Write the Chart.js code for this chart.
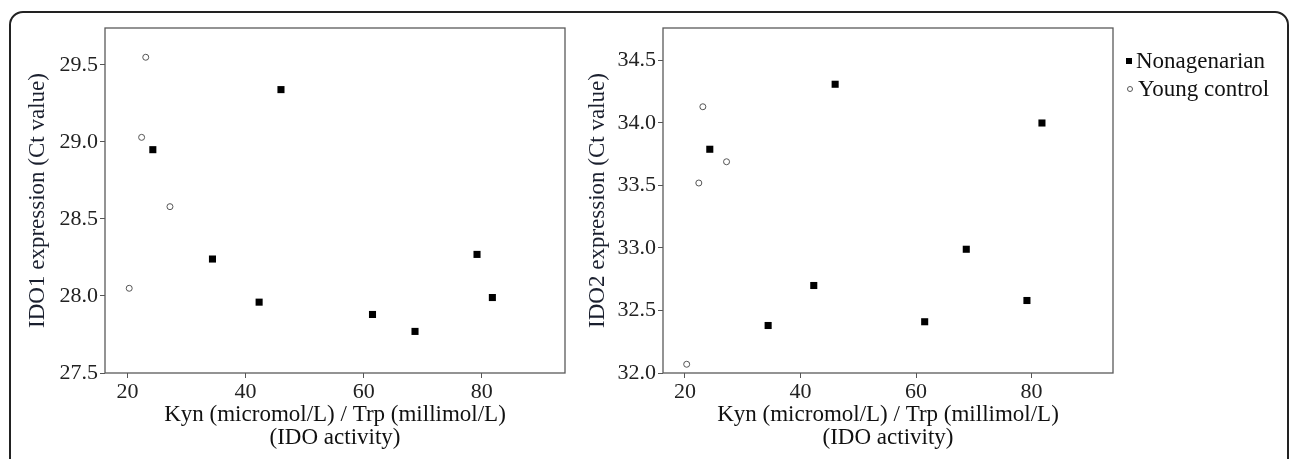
<!DOCTYPE html>
<html>
<head>
<meta charset="utf-8">
<script src="https://cdn.jsdelivr.net/npm/chart.js@4.4.1/dist/chart.umd.min.js"></script>
<style>
  body { margin: 0; background: #fff; width: 1290px; height: 459px; overflow: hidden; position: relative; }
  #frame { position: absolute; left: 9px; top: 11px; width: 1276px; height: 520px; border: 2px solid #222; border-radius: 14px; }
  .box { position: absolute; top: 0; height: 459px; }
  #legend { position: absolute; left: 1126px; top: 47px; font-family: "Liberation Serif", serif; font-size: 23px; color: #111; }
  #legend div { height: 28px; line-height: 28px; white-space: nowrap; }
  #legend span.mk { display: inline-block; width: 6px; height: 6px; margin-right: 4px; vertical-align: middle; position: relative; top: -2px; }
</style>
</head>
<body>
<div id="frame"></div>
<div class="box" style="left:0;width:580px"><canvas id="chartIdo1"></canvas></div>
<div class="box" style="left:560px;width:730px"><canvas id="chartIdo2"></canvas></div>
<div id="legend"></div>
<script>
// Kyn/Trp ratio (IDO activity)
const kynTrpNonagenarian = [24.3, 34.4, 42.3, 46.0, 61.5, 68.7, 79.2, 81.8];
const kynTrpYoung = [20.3, 22.4, 23.1, 27.2];
// IDO1 expression (Ct value)
const ido1Nonagenarian = [28.95, 28.24, 27.96, 29.34, 27.88, 27.77, 28.27, 27.99];
const ido1Young = [28.05, 29.03, 29.55, 28.58];
// IDO2 expression (Ct value)
const ido2Nonagenarian = [33.79, 32.38, 32.70, 34.31, 32.41, 32.99, 32.58, 34.00];
const ido2Young = [32.07, 33.52, 34.13, 33.69];
// tick labels
const xTicks = [20, 40, 60, 80];
const ido1Ticks = [27.5, 28.0, 28.5, 29.0, 29.5];
const ido2Ticks = [32.0, 32.5, 33.0, 33.5, 34.0, 34.5];

const serif = "'Liberation Serif', 'Times New Roman', serif";

function pts(xs, ys) {
  return xs.map((x, i) => ({ x: x, y: ys[i] }));
}

// draws the grey box round the plot area
const frameBox = {
  id: "frameBox",
  afterDraw(chart) {
    const a = chart.chartArea;
    const ctx = chart.ctx;
    ctx.save();
    ctx.strokeStyle = "#5a5a5a";
    ctx.lineWidth = 1.3;
    ctx.strokeRect(a.left, a.top, a.right - a.left, a.bottom - a.top);
    ctx.restore();
  },
};

function makeChart(id, yNon, yYoung, yTicks, yMin, yMax, yTitle, axisWidth, padRight) {
  const data = {
    datasets: [
      {
        label: "Nonagenarian",
        data: pts(kynTrpNonagenarian, yNon),
        pointStyle: "rect",
        pointRadius: 5,
        backgroundColor: "#000",
        borderColor: "#000",
        borderWidth: 0,
      },
      {
        label: "Young control",
        data: pts(kynTrpYoung, yYoung),
        pointStyle: "circle",
        pointRadius: 3,
        backgroundColor: "#fff",
        borderColor: "#555",
        borderWidth: 1,
      },
    ],
  };
  const config = {
    type: "scatter",
    data: data,
    options: {
      responsive: true,
      maintainAspectRatio: false,
      animation: false,
      layout: { padding: { top: 28, right: padRight, bottom: 0, left: 0 } },
      scales: {
        x: {
          type: "linear",
          min: 16.2,
          max: 94.1,
          afterBuildTicks: (s) => { s.ticks = xTicks.map((v) => ({ value: v })); },
          afterFit: (s) => { s.height = 86; },
          border: { display: false },
          grid: { display: true, drawOnChartArea: false, drawTicks: true, tickLength: 5, color: "#555" },
          ticks: { color: "#222", padding: 1, font: { family: serif, size: 22 } },
          title: {
            display: true,
            text: ["Kyn (micromol/L) / Trp (millimol/L)", "(IDO activity)"],
            color: "#111",
            font: { family: serif, size: 23, lineHeight: 1 },
            padding: { top: 0, bottom: 9.5 },
          },
        },
        y: {
          type: "linear",
          min: yMin,
          max: yMax,
          afterBuildTicks: (s) => { s.ticks = yTicks.map((v) => ({ value: v })); },
          afterFit: (s) => { s.width = axisWidth; },
          border: { display: false },
          grid: { display: true, drawOnChartArea: false, drawTicks: true, tickLength: 5, color: "#555" },
          ticks: {
            color: "#222",
            padding: 2,
            font: { family: serif, size: 22 },
            callback: (v) => Number(v).toFixed(1),
          },
          title: {
            display: true,
            text: yTitle,
            color: "#1a1f2e",
            font: { family: serif, size: 23, lineHeight: 1 },
            padding: { top: 26.5, bottom: 0 },
          },
        },
      },
      plugins: {
        legend: { display: false },
        tooltip: { enabled: false },
      },
    },
    plugins: [frameBox],
  };
  return new Chart(document.getElementById(id), config);
}

const chart1 = makeChart("chartIdo1", ido1Nonagenarian, ido1Young, ido1Ticks, 27.5, 29.74, "IDO1 expression (Ct value)", 105, 15);
const chart2 = makeChart("chartIdo2", ido2Nonagenarian, ido2Young, ido2Ticks, 32.0, 34.76, "IDO2 expression (Ct value)", 103, 177);

// legend built from the datasets of the right chart
const legend = document.getElementById("legend");
chart2.data.datasets.forEach((ds) => {
  const row = document.createElement("div");
  const mk = document.createElement("span");
  mk.className = "mk";
  if (ds.pointStyle === "rect") {
    mk.style.background = ds.backgroundColor;
  } else {
    mk.style.border = "1px solid " + ds.borderColor;
    mk.style.borderRadius = "50%";
    mk.style.width = "4px";
    mk.style.height = "4px";
    mk.style.marginLeft = "1px";
    mk.style.marginRight = "5px";
  }
  row.appendChild(mk);
  row.appendChild(document.createTextNode(ds.label));
  legend.appendChild(row);
});
</script>
</body>
</html>
